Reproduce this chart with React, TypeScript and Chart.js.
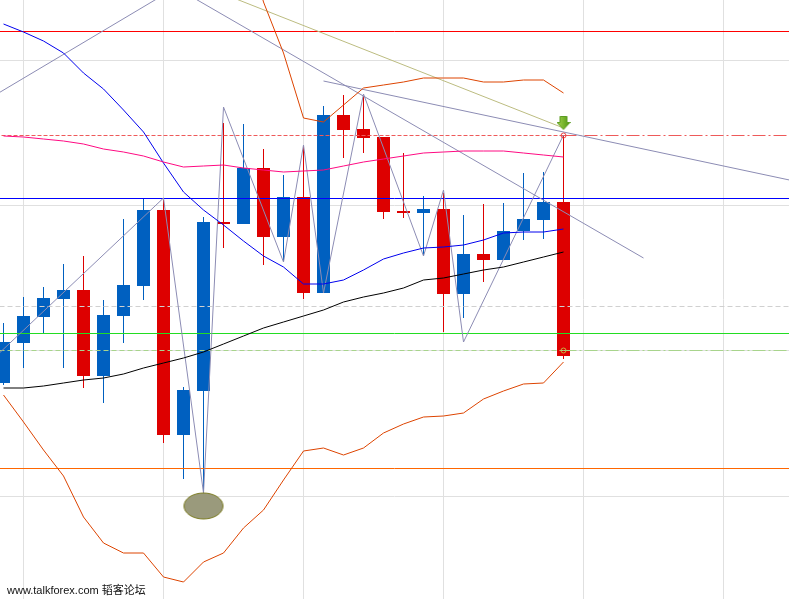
import React, { useEffect, useRef } from "react";
import { Chart, registerables } from "chart.js";

Chart.register(...registerables);

// ---- data (price units; larger = higher) ----
const candleIdx = Array.from({ length: 29 }, (_, i) => i);
const opens = [217, 257, 283, 301, 310, 224, 284, 314, 390, 165, 209, 378, 376, 432, 363, 403, 307, 485, 471, 463, 389, 387, 391, 306, 346, 340, 369, 380, 398];
const highs = [277, 303, 313, 336, 344, 300, 381, 401, 400, 213, 383, 477, 476, 451, 425, 454, 494, 505, 504, 463, 447, 404, 407, 385, 396, 397, 427, 428, 465];
const lows = [215, 232, 267, 232, 212, 197, 257, 300, 157, 121, 105, 352, 376, 335, 339, 301, 307, 442, 447, 381, 382, 344, 268, 282, 318, 340, 360, 361, 241];
const closes = [258, 284, 302, 310, 224, 285, 315, 390, 165, 210, 378, 376, 432, 363, 403, 307, 485, 470, 462, 388, 387, 391, 306, 346, 340, 369, 381, 398, 244];

const blueMA = [576, 568, 559, 547, 527, 511, 490, 468, 437, 408, 390, 375, 359, 344, 333, 316, 316, 320, 330, 341, 347, 352, 353, 355, 360, 367, 368, 368, 371];
const blackMA = [212, 212, 214, 217, 220, 222, 226, 232, 237, 242, 248, 256, 264, 272, 278, 284, 290, 298, 303, 307, 312, 320, 322, 326, 330, 333, 338, 343, 348];
const pinkMA = [464, 463, 461, 459, 456, 451, 448, 444, 438, 433, 434, 435, 432, 430, 428, 429, 430, 434, 438, 441, 444, 447, 448, 449, 449, 449, 447, 445, 443];
const bandUpper = [null, null, null, null, null, null, null, null, null, null, null, null, 670, 598, 547, 482, 478, 495, 512, 515, 518, 522, 522, 522, 518, 518, 520, 520, 507];
const bandLower = [205, 178, 150, 124, 83, 57, 47, 47, 23, 18, 38, 47, 72, 90, 120, 149, 152, 145, 152, 167, 176, 183, 184, 187, 201, 209, 216, 217, 238];

const zigzagX = [-1, 8, 10, 11, 14, 15, 16, 18, 21, 22, 23, 28];
const zigzagY = [232, 402, 107, 493, 338, 455, 307, 506, 344, 410, 258, 465];

const trendA = [[-1, 498], [9, 617]];
const trendB = [[9, 608], [32, 342]];
const trendC = [[16, 519], [40, 417]];
const trendD = [[11, 606], [28, 472]];

const levelRed = 568.5;
const levelRedDash = 464.5;
const levelBlue = 401.5;
const levelGrayDash = 293.5;
const levelGreen = 266.5;
const levelGreenDash = 249.5;
const levelOrange = 131.5;

const gridX = [1, 8, 15, 22, 29, 36];
const gridY = [539.5, 394.5, 249.5, 103.5];

const signalIdx = 28;
const signalY = 477;
const markIdx = 10;
const markY = 94;

const watermark = "www.talkforex.com 韬客论坛";

const RED = "#dd0000";
const BLUE = "#0060c0";

function makeArrow() {
  const c = document.createElement("canvas");
  c.width = 14;
  c.height = 14;
  const g = c.getContext("2d")!;
  const grad = g.createLinearGradient(0, 0, 14, 0);
  grad.addColorStop(0, "#a6d64e");
  grad.addColorStop(1, "#4c9410");
  g.fillStyle = grad;
  g.beginPath();
  g.moveTo(3.5, 0.5);
  g.lineTo(10.5, 0.5);
  g.lineTo(10.5, 6.5);
  g.lineTo(13.5, 6.5);
  g.lineTo(7, 13.5);
  g.lineTo(0.5, 6.5);
  g.lineTo(3.5, 6.5);
  g.closePath();
  g.fill();
  g.strokeStyle = "#5c9c22";
  g.lineWidth = 1;
  g.stroke();
  return c;
}

function makeEllipse() {
  const c = document.createElement("canvas");
  c.width = 42;
  c.height = 28;
  const g = c.getContext("2d")!;
  g.beginPath();
  g.ellipse(21, 14, 19.5, 13, 0, 0, Math.PI * 2);
  g.fillStyle = "#9a9a7c";
  g.fill();
  g.strokeStyle = "#7c7c22";
  g.lineWidth = 1;
  g.stroke();
  return c;
}

function hline(y: number, color: string, x0 = -1, x1 = 40, dash: number[] = [], order = 3) {
  return {
    type: "line" as const,
    data: [{ x: x0, y }, { x: x1, y }],
    borderColor: color,
    borderWidth: 1,
    borderDash: dash,
    pointRadius: 0,
    fill: false,
    order,
  };
}

function seg(pts: number[][], color: string, order = 2) {
  return {
    type: "line" as const,
    data: pts.map(([x, y]) => ({ x, y })),
    borderColor: color,
    borderWidth: 1,
    pointRadius: 0,
    fill: false,
    order,
  };
}

function series(vals: (number | null)[], color: string, order = 1) {
  return {
    type: "line" as const,
    data: candleIdx
      .map((i) => ({ x: i, y: vals[i] }))
      .filter((p) => p.y !== null),
    borderColor: color,
    borderWidth: 1,
    pointRadius: 0,
    fill: false,
    tension: 0,
    order,
  };
}

export default function App() {
  const ref = useRef<HTMLCanvasElement | null>(null);

  useEffect(() => {
    if (!ref.current) return;
    const colors = candleIdx.map((i) => (closes[i] >= opens[i] ? BLUE : RED));
    const chart = new Chart(ref.current, {
      type: "bar",
      data: {
        datasets: [
          {
            type: "bar",
            data: candleIdx.map((i) => ({ x: i, y: [lows[i], highs[i]] })) as any,
            backgroundColor: colors,
            borderWidth: 0,
            barThickness: 1,
            grouped: false,
            inflateAmount: 0,
            order: 20,
          } as any,
          {
            type: "bar",
            data: candleIdx.map((i) => ({ x: i, y: [opens[i], closes[i]] })) as any,
            backgroundColor: colors,
            borderWidth: 0,
            barThickness: 13,
            grouped: false,
            inflateAmount: 0,
            order: 19,
          } as any,
          hline(levelGrayDash, "#d0d0d0", -1, 40, [5, 3], 10),
          hline(levelGreenDash, "#a8d48c", -1, signalIdx, [5, 3], 9),
          hline(levelGreenDash, "#a8d48c", signalIdx, 40, [13, 3, 2, 3], 9),
          hline(levelRedDash, "#ee5a5a", -1, signalIdx, [4, 2], 9),
          hline(levelRedDash, "#ee5a5a", signalIdx, 40, [13, 3, 2, 3], 9),
          hline(levelRed, "#ff0000", -1, 40, [], 8),
          hline(levelBlue, "#0000ff", -1, 40, [], 8),
          hline(levelGreen, "#22dd22", -1, 40, [], 8),
          hline(levelOrange, "#ff6600", -1, 40, [], 8),
          seg(trendA, "#8c8cb4", 6),
          seg(trendB, "#8c8cb4", 6),
          seg(trendC, "#8c8cb4", 6),
          seg(trendD, "#bcbc80", 6),
          seg(zigzagX.map((x, k) => [x, zigzagY[k]]), "#8c8cb4", 5),
          series(pinkMA, "#ff0a82", 4),
          series(blackMA, "#000000", 4),
          series(blueMA, "#0000ee", 4),
          series(bandUpper, "#dd4400", 4),
          series(bandLower, "#dd4400", 4),
          {
            type: "line",
            data: [
              { x: signalIdx, y: levelRedDash },
            ],
            showLine: false,
            pointRadius: 2.5,
            pointBorderColor: "#ee4444",
            pointBackgroundColor: "rgba(0,0,0,0)",
            pointBorderWidth: 1,
            order: 1,
          } as any,
          {
            type: "line",
            data: [
              { x: signalIdx, y: levelGreenDash },
            ],
            showLine: false,
            pointRadius: 2.5,
            pointBorderColor: "#c8b040",
            pointBackgroundColor: "rgba(0,0,0,0)",
            pointBorderWidth: 1,
            order: 1,
          } as any,
          {
            type: "line",
            data: [{ x: markIdx, y: markY }],
            showLine: false,
            pointRadius: 10,
            pointStyle: makeEllipse(),
            order: 0,
          } as any,
          {
            type: "line",
            data: [{ x: signalIdx, y: signalY }],
            showLine: false,
            pointRadius: 8,
            pointStyle: makeArrow(),
            order: 0,
          } as any,
        ],
      },
      options: {
        animation: false,
        responsive: false,
        events: [],
        layout: { padding: 0, autoPadding: false },
        plugins: {
          legend: { display: false },
          tooltip: { enabled: false },
          title: { display: false },
        },
        scales: {
          x: {
            type: "linear",
            min: -0.175,
            max: 39.275,
            offset: false,
            grid: { color: "#e0e0e0", drawTicks: false, offset: false, lineWidth: 1 },
            border: { display: false },
            ticks: { display: false },
            afterBuildTicks: (s: any) => {
              s.ticks = gridX.map((v) => ({ value: v }));
            },
          },
          y: {
            type: "linear",
            min: 1,
            max: 600,
            beginAtZero: false,
            grid: { color: "#e0e0e0", drawTicks: false, lineWidth: 1 },
            border: { display: false },
            ticks: { display: false },
            afterBuildTicks: (s: any) => {
              s.ticks = gridY.map((v) => ({ value: v }));
            },
          },
        },
      } as any,
    });
    return () => chart.destroy();
  }, []);

  return (
    <div style={{ position: "fixed", left: 0, top: 0, width: 789, height: 599, background: "#ffffff", overflow: "hidden" }}>
      <canvas ref={ref} width={789} height={599} style={{ display: "block", width: 789, height: 599 }} />
      <div
        style={{
          position: "absolute",
          left: 7,
          top: 581,
          font: '11px "Liberation Sans", "Noto Sans CJK SC", sans-serif',
          color: "#111111",
          whiteSpace: "nowrap",
        }}
      >
        {watermark}
      </div>
    </div>
  );
}
